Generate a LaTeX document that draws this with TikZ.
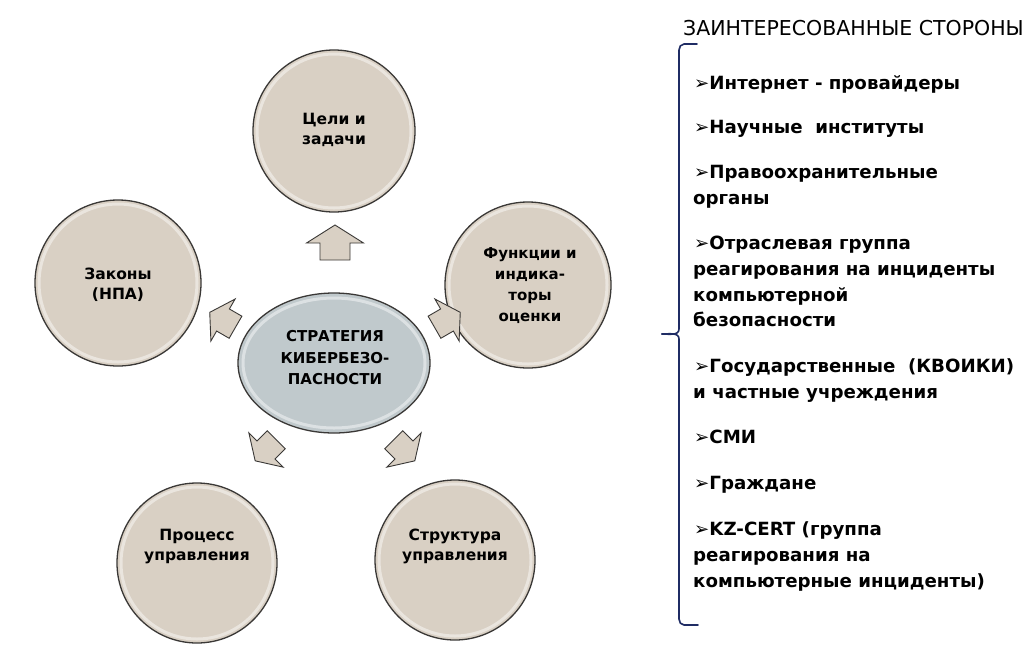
\documentclass[tikz,border=0pt]{standalone}
\usepackage{fontspec}
\setmainfont{DejaVu Sans}
\usetikzlibrary{shapes.geometric}
\definecolor{beige}{HTML}{D9D0C4}
\definecolor{steel}{HTML}{C0C9CC}
\definecolor{navy}{HTML}{1F2C64}
\definecolor{rim}{HTML}{3A3836}
\newcommand{\bul}{➢}
\begin{document}
\begin{tikzpicture}[x=1pt,y=-1pt,
  bubble/.style={circle, draw=rim, line width=1.3pt, fill=beige, minimum size=#1, inner sep=0pt},
  btext/.style={align=center, inner sep=0pt, font=\bfseries\fontsize{15.5}{20}\selectfont},
  core/.style={ellipse, draw=rim, line width=1.3pt, fill=steel, minimum width=192pt, minimum height=140pt, inner sep=0pt},
  shine/.style={white, opacity=0.45, line width=3pt},
  blockarrow/.style={fill=beige, draw=rim, line width=0.9pt, line join=miter},
  item/.style={anchor=base west, inner sep=0pt, font=\bfseries\fontsize{18.2}{20}\selectfont},
  ttl/.style={anchor=base west, inner sep=0pt, font=\fontsize{20.5}{22}\selectfont},
  brace/.style={draw=navy, line width=1.6pt, line cap=round, line join=round}
]
\useasboundingbox (0,0) rectangle (1030,646);
\fill[white] (0,0) rectangle (1030,646);

% outer circles
\node[bubble=162pt] (goals) at (334,131) {};
\node[bubble=166pt] (laws) at (118,283) {};
\node[bubble=166pt] (func) at (528,285) {};
\node[bubble=160pt] (proc) at (197,563) {};
\node[bubble=160pt] (struct) at (455,560) {};
\foreach \n/\r in {goals/77, laws/79, func/79, proc/76, struct/76}
  \draw[shine] (\n.center) circle (\r pt);
\node[btext] (goalsT) at (334,130) {Цели и\\задачи};
\node[btext] (lawsT) at (118,285) {Законы\\(НПА)};
\node[btext, font=\bfseries\fontsize{15}{21}\selectfont] (funcT) at (530,286) {Функции и\\индика-\\торы\\оценки};
\node[btext] (procT) at (197,547) {Процесс\\управления};
\node[btext] (structT) at (455,546) {Структура\\управления};

% centre
\node[core] (core) at (334,363) {};
\draw[shine] (core.center) ellipse (91pt and 65pt);
\node[btext, font=\bfseries\fontsize{15}{21.5}\selectfont] (coreT) at (335,358) {СТРАТЕГИЯ\\КИБЕРБЕЗО-\\ПАСНОСТИ};

% block arrows (centre -> outer circles)
\begin{scope}[shift={(335,243)}, rotate=90]
  \draw[blockarrow] (-17,-15) -- (0,-15) -- (0,-28.5) -- (18,0) -- (0,28.5) -- (0,15) -- (-17,15) -- cycle;
\end{scope}
\begin{scope}[shift={(223,320)}, rotate=150, scale=0.85]
  \draw[blockarrow] (-17,-15) -- (0,-15) -- (0,-28.5) -- (18,0) -- (0,28.5) -- (0,15) -- (-17,15) -- cycle;
\end{scope}
\begin{scope}[shift={(447,320)}, rotate=30, scale=0.85]
  \draw[blockarrow] (-17,-15) -- (0,-15) -- (0,-28.5) -- (18,0) -- (0,28.5) -- (0,15) -- (-17,15) -- cycle;
\end{scope}
\begin{scope}[shift={(266,450)}, rotate=225, scale=0.85]
  \draw[blockarrow] (-17,-15) -- (0,-15) -- (0,-28.5) -- (18,0) -- (0,28.5) -- (0,15) -- (-17,15) -- cycle;
\end{scope}
\begin{scope}[shift={(404,450)}, rotate=-45, scale=0.85]
  \draw[blockarrow] (-17,-15) -- (0,-15) -- (0,-28.5) -- (18,0) -- (0,28.5) -- (0,15) -- (-17,15) -- cycle;
\end{scope}

% stakeholders
\node[ttl] (title) at (683,35) {ЗАИНТЕРЕСОВАННЫЕ СТОРОНЫ};
\coordinate (bt) at (697,44);
\coordinate (bb) at (698,625);
\coordinate (bm) at (662,334);
\draw[brace] (bt) -- (684,44) to[out=180,in=90] (679,50) -- (679,329) to[out=-90,in=0] (bm);
\draw[brace] (bm) to[out=0,in=90] (679,339) -- (679,619) to[out=-90,in=180] (684,625) -- (bb);

\node[item] (i1) at (694,89) {\bul Интернет - провайдеры};
\node[item] (i2) at (694,133) {\bul Научные\ \ институты};
\node[item] (i3) at (694,178) {\bul Правоохранительные};
\node[item] (i3b) at (693,204) {органы};
\node[item] (i4) at (694,249) {\bul Отраслевая группа};
\node[item] (i4b) at (693,275) {реагирования на инциденты};
\node[item] (i4c) at (693,301) {компьютерной};
\node[item] (i4d) at (693,326) {безопасности};
\node[item] (i5) at (694,372) {\bul Государственные\ \ (КВОИКИ)};
\node[item] (i5b) at (693,398) {и частные учреждения};
\node[item] (i6) at (694,443) {\bul СМИ};
\node[item] (i7) at (694,489) {\bul Граждане};
\node[item] (i8) at (694,535) {\bul KZ-CERT (группа};
\node[item] (i8b) at (693,561) {реагирования на};
\node[item] (i8c) at (693,587) {компьютерные инциденты)};
\end{tikzpicture}
\end{document}
